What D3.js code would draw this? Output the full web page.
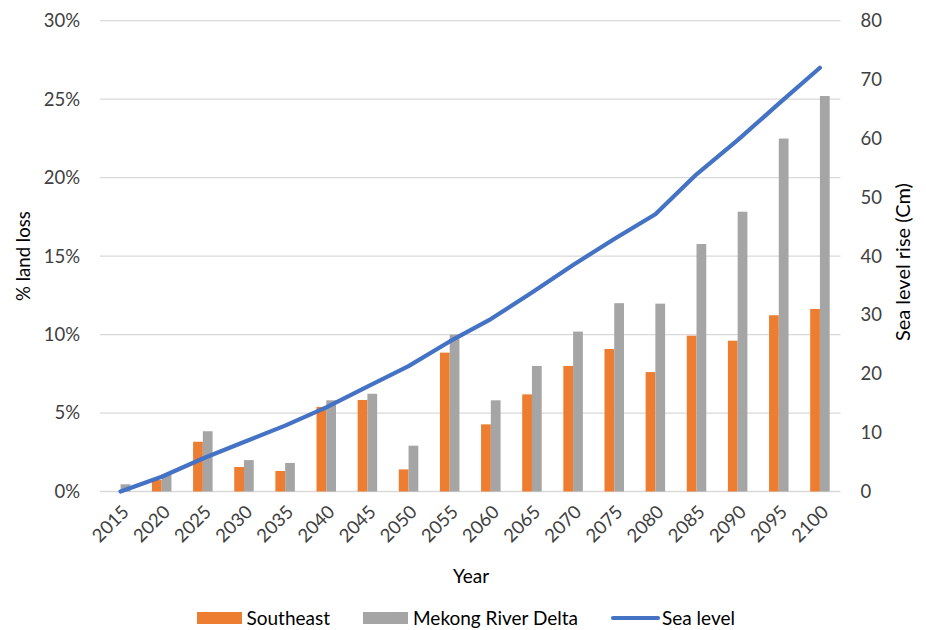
<!DOCTYPE html>
<html>
<head>
<meta charset="utf-8">
<script src="https://cdn.jsdelivr.net/npm/d3@7"></script>
<style>
  html, body { margin: 0; padding: 0; background: #fff; }
  svg { display: block; font-family: Lato, "Open Sans", sans-serif; }
</style>
</head>
<body>
<svg id="chart" width="926" height="630"></svg>
<script>
// Projected land loss by region and sea level rise, 2015–2100
const years = ["2015","2020","2025","2030","2035","2040","2045","2050","2055","2060",
               "2065","2070","2075","2080","2085","2090","2095","2100"];
const southeast = [0.0, 0.73, 3.17, 1.56, 1.31, 5.39, 5.83, 1.41, 8.85, 4.28,
                   6.19, 8.0, 9.08, 7.61, 9.93, 9.61, 11.23, 11.63];
const mekong = [0.46, 1.05, 3.84, 2.0, 1.82, 5.81, 6.23, 2.92, 10.0, 5.81,
                8.0, 10.19, 12.0, 11.97, 15.77, 17.83, 22.49, 25.2];
const seaLevel = [0, 2.5, 5.6, 8.4, 11.2, 14.3, 17.8, 21.3, 25.5, 29.3,
                  33.8, 38.5, 42.9, 47.1, 53.9, 59.7, 65.9, 72.0];
const leftTicks = [0, 5, 10, 15, 20, 25, 30];
const rightTicks = [0, 10, 20, 30, 40, 50, 60, 70, 80];
const seriesNames = ["Southeast", "Mekong River Delta", "Sea level"];

const colors = { southeast: "#ED7D31", mekong: "#A5A5A5", line: "#4472C4" };
const textColor = "#404040";
const tickFont = 18.5;

const svg = d3.select("#chart");
const margin = { left: 100, right: 926 - 840.5, top: 20.7, bottom: 630 - 491.5 };
const innerW = 926 - margin.left - margin.right;
const innerH = 630 - margin.top - margin.bottom;

const g = svg.append("g").attr("transform", `translate(${margin.left},${margin.top})`);

const x = d3.scaleBand().domain(years).range([0, innerW]);
const yL = d3.scaleLinear().domain([0, 30]).range([innerH, 0]);
const yR = d3.scaleLinear().domain([0, 80]).range([innerH, 0]);

// Gridlines
g.append("g").selectAll("line").data(leftTicks).join("line")
  .attr("x1", 0).attr("x2", innerW)
  .attr("y1", d => yL(d)).attr("y2", d => yL(d))
  .attr("stroke", "#D9D9D9").attr("stroke-width", 1.3);

// Bars
const groupW = x.bandwidth() * 0.474;
const barW = groupW / 2;
const bars = g.append("g");
years.forEach((yr, i) => {
  const cx = x(yr) + x.bandwidth() / 2;
  bars.append("rect")
    .attr("x", cx - barW).attr("width", barW)
    .attr("y", yL(southeast[i])).attr("height", innerH - yL(southeast[i]))
    .attr("fill", colors.southeast);
  bars.append("rect")
    .attr("x", cx).attr("width", barW)
    .attr("y", yL(mekong[i])).attr("height", innerH - yL(mekong[i]))
    .attr("fill", colors.mekong);
});

// Sea level line
const line = d3.line()
  .x((d, i) => x(years[i]) + x.bandwidth() / 2)
  .y(d => yR(d));
g.append("path").datum(seaLevel)
  .attr("d", line)
  .attr("fill", "none")
  .attr("stroke", colors.line)
  .attr("stroke-width", 4.2)
  .attr("stroke-linecap", "round")
  .attr("stroke-linejoin", "round");

// Left axis
const leftAxis = g.append("g")
  .call(d3.axisLeft(yL).tickValues(leftTicks).tickFormat(d => d + "%").tickSize(0).tickPadding(20));
leftAxis.select(".domain").remove();
leftAxis.selectAll("text").attr("font-size", tickFont).attr("fill", textColor).attr("font-family", "Lato, sans-serif");

// Right axis
const rightAxis = g.append("g").attr("transform", `translate(${innerW},0)`)
  .call(d3.axisRight(yR).tickValues(rightTicks).tickSize(0).tickPadding(20));
rightAxis.select(".domain").remove();
rightAxis.selectAll("text").attr("font-size", tickFont).attr("fill", textColor).attr("font-family", "Lato, sans-serif");

// Bottom axis with rotated year labels
const bottomAxis = g.append("g").attr("transform", `translate(0,${innerH})`)
  .call(d3.axisBottom(x).tickSize(0).tickPadding(0));
bottomAxis.select(".domain").remove();
bottomAxis.selectAll("text")
  .attr("font-size", tickFont).attr("fill", textColor).attr("font-family", "Lato, sans-serif")
  .attr("text-anchor", "end")
  .attr("dy", "0.35em")
  .attr("transform", "translate(5,17) rotate(-45)");

// Axis titles
svg.append("text")
  .attr("transform", `translate(30,${margin.top + innerH / 2}) rotate(-90)`)
  .attr("text-anchor", "middle").attr("font-size", 18.6).attr("fill", "#000")
  .text("% land loss");
svg.append("text")
  .attr("transform", `translate(910,${margin.top + innerH / 2 + 6}) rotate(-90)`)
  .attr("text-anchor", "middle").attr("font-size", 20).attr("fill", "#000")
  .text("Sea level rise (Cm)");
svg.append("text")
  .attr("x", 471).attr("y", 583)
  .attr("text-anchor", "middle").attr("font-size", 19).attr("fill", "#000")
  .text("Year");

// Legend
const legend = svg.append("g").attr("font-size", 19).attr("fill", "#000");
const legendItems = [
  { name: seriesNames[0], type: "rect", color: colors.southeast, x: 197, tx: 246.5 },
  { name: seriesNames[1], type: "rect", color: colors.mekong, x: 363, tx: 413 },
  { name: seriesNames[2], type: "line", color: colors.line, x: 611, tx: 662 }
];
legendItems.forEach(it => {
  if (it.type === "rect") {
    legend.append("rect").attr("x", it.x).attr("y", 612).attr("width", 45).attr("height", 12).attr("fill", it.color);
  } else {
    legend.append("line").attr("x1", it.x + 2).attr("x2", it.x + 47).attr("y1", 618).attr("y2", 618)
      .attr("stroke", it.color).attr("stroke-width", 4.2).attr("stroke-linecap", "round");
  }
  legend.append("text").attr("x", it.tx).attr("y", 618).attr("dy", "0.35em").text(it.name);
});
</script>
</body>
</html>
